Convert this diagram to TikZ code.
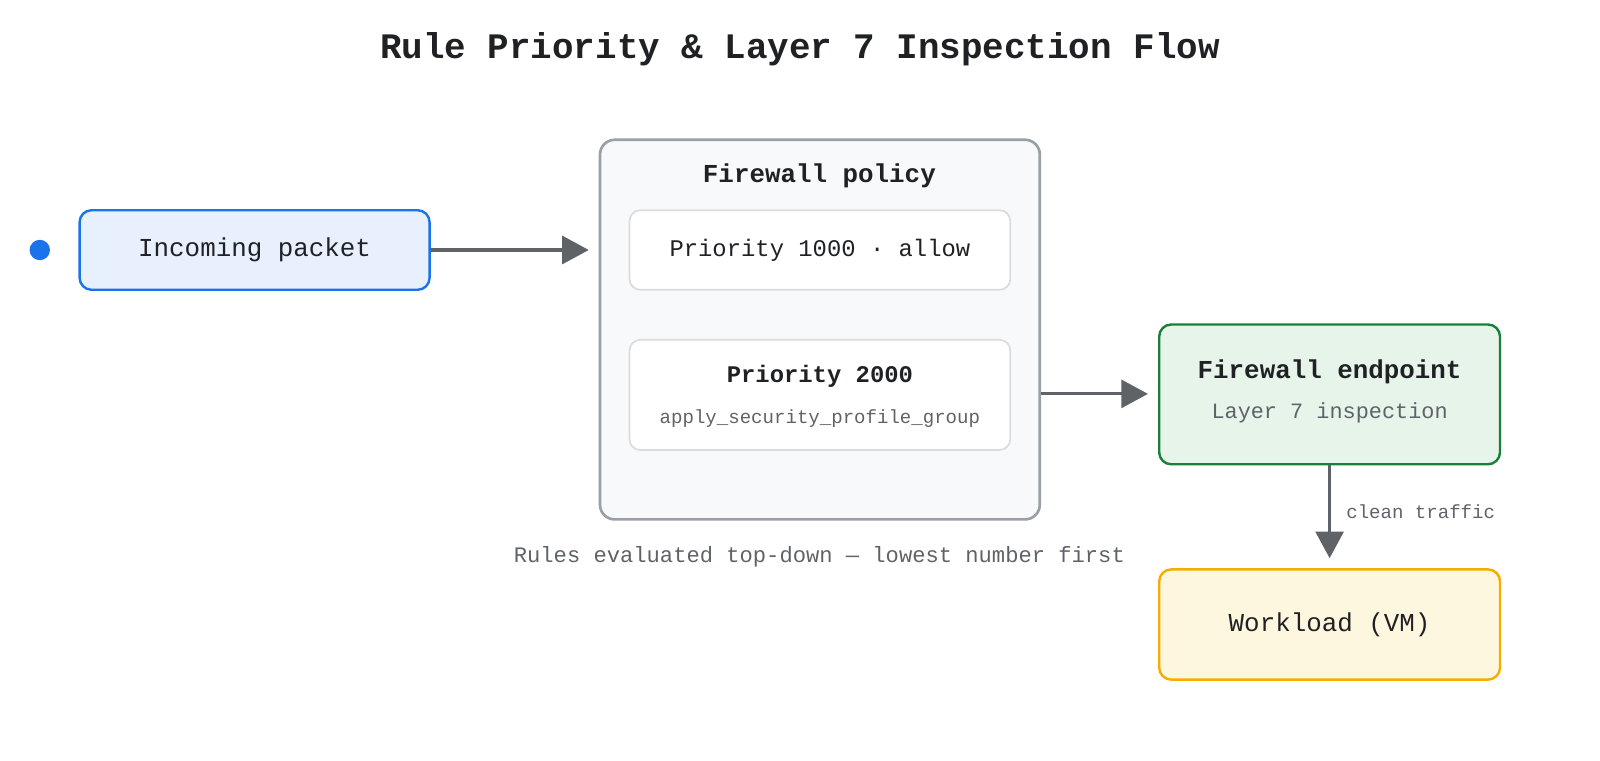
\documentclass[tikz,border=0pt]{standalone}
\usepackage{fontspec}
\setmainfont{Liberation Mono}
\usetikzlibrary{arrows.meta}
\definecolor{blu}{HTML}{1A73E8}
\definecolor{blufill}{HTML}{E8F0FE}
\definecolor{gry}{HTML}{5F6368}
\definecolor{gryb}{HTML}{9AA0A6}
\definecolor{grf}{HTML}{F8F9FA}
\definecolor{lgr}{HTML}{DADCE0}
\definecolor{grn}{HTML}{188038}
\definecolor{grnf}{HTML}{E6F4EA}
\definecolor{yel}{HTML}{F9AB00}
\definecolor{yelf}{HTML}{FEF7E0}
\definecolor{txt}{HTML}{202124}
\begin{document}
\begin{tikzpicture}[x=0.7653pt,y=-0.7653pt,
  box/.style={draw,rounded corners=9pt,line width=1.8pt,inner sep=0pt},
  arr/.style={draw=gry,line width=2.4pt,-{Triangle[length=20pt,width=21pt]}},
  f19/.style={font=\fontsize{19.4}{22}\selectfont,text=txt},
  f16/.style={font=\fontsize{16.4}{19}\selectfont,text=gry},
  f14/.style={font=\fontsize{14.3}{17}\selectfont,text=gry}]
\useasboundingbox (0,0) rectangle (1568,745);
\node[font=\bfseries\fontsize{26.9}{32}\selectfont,text=txt] (title) at (784,48) {Rule Priority \& Layer 7 Inspection Flow};
\fill[blu] (39,245) circle[radius=10] coordinate (dot);
\node[box,draw=blu,fill=blufill,minimum width=343pt*0.7653,minimum height=78pt*0.7653,f19] (in) at (249.5,245) {Incoming packet};
\node[box,draw=gryb,fill=grf,line width=2pt,rounded corners=11pt,minimum width=431pt*0.7653,minimum height=372pt*0.7653] (pol) at (803.5,323) {};
\node[f19,font=\bfseries\fontsize{19.4}{22}\selectfont] (polt) at (803,172) {Firewall policy};
\node[box,draw=lgr,fill=white,line width=1.3pt,rounded corners=8pt,minimum width=373pt*0.7653,minimum height=78pt*0.7653,font=\fontsize{17.9}{20}\selectfont,text=txt] (r1) at (803.5,245) {Priority 1000 · allow};
\node[box,draw=lgr,fill=white,line width=1.3pt,rounded corners=8pt,minimum width=373pt*0.7653,minimum height=108pt*0.7653] (r2) at (803.5,387) {};
\node[font=\bfseries\fontsize{17.9}{20}\selectfont,text=txt] (r2a) at (803.5,369) {Priority 2000};
\node[f14] (r2b) at (803.5,410) {apply\_security\_profile\_group};
\node[box,draw=grn,fill=grnf,minimum width=334pt*0.7653,minimum height=137pt*0.7653] (ep) at (1303,386.5) {};
\node[f19,font=\bfseries\fontsize{19.4}{22}\selectfont] (ept) at (1303,364) {Firewall endpoint};
\node[f16] (eps) at (1303,405) {Layer 7 inspection};
\node[box,draw=yel,fill=yelf,minimum width=334pt*0.7653,minimum height=108pt*0.7653,f19] (wl) at (1303,612) {Workload (VM)};
\node[font=\fontsize{16.6}{19}\selectfont,text=gry] (cap) at (803,546) {Rules evaluated top-down — lowest number first};
\coordinate (a1) at (577,245);
\draw[arr] (in.east) -- (a1);
\coordinate (a2s) at (pol.east |- 0,386);
\coordinate (a2) at (1125,386);
\draw[arr] (a2s) -- (a2);
\coordinate (a3) at (1303,547);
\draw[arr] (ep.south) -- node[right=8pt,f14,pos=0.5] {clean traffic} (a3);
\end{tikzpicture}
\end{document}
